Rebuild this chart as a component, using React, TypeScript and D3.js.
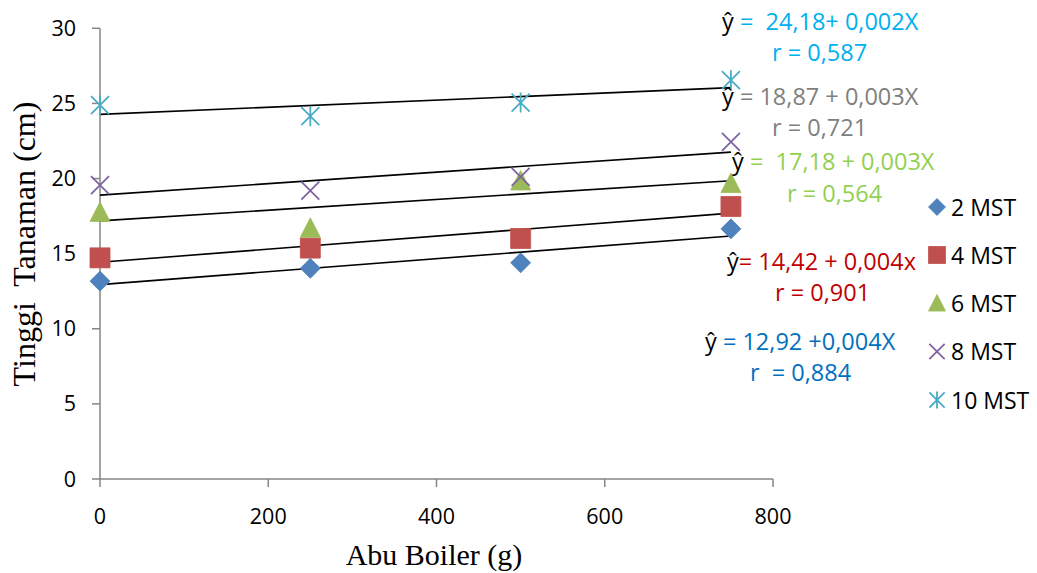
import React from "react";
import * as d3 from "d3";

const doses = [0, 250, 500, 750];
const seriesNames = ["2 MST", "4 MST", "6 MST", "8 MST", "10 MST"];
const mst2 = [13.17, 14.02, 14.39, 16.65];
const mst4 = [14.72, 15.37, 16.01, 18.14];
const mst6 = [17.78, 16.72, 19.87, 19.7];
const mst8 = [19.56, 19.2, 20.11, 22.44];
const mst10 = [24.88, 24.15, 25.06, 26.55];
const xTicks = [0, 200, 400, 600, 800];
const yTicks = [0, 5, 10, 15, 20, 25, 30];
const equations = [
  { eq: " =  24,18+ 0,002X", r: "r = 0,587", color: "#00B0F0" },
  { eq: " = 18,87 + 0,003X", r: "r = 0,721", color: "#7F7F7F" },
  { eq: " =  17,18 + 0,003X", r: "r = 0,564", color: "#92D050" },
  { eq: "= 14,42 + 0,004x", r: "r = 0,901", color: "#C00000" },
  { eq: " = 12,92 +0,004X", r: "r  = 0,884", color: "#0070C0" },
];

const colors = ["#4F81BD", "#C0504D", "#9BBB59", "#8064A2", "#4BACC6"];
const allSeries = [mst2, mst4, mst6, mst8, mst10];

function markerPath(kind: number, s: number): string {
  const h = s / 2;
  switch (kind) {
    case 0:
      return `M0,${-h}L${h},0L0,${h}L${-h},0Z`;
    case 1:
      return `M${-h},${-h}H${h}V${h}H${-h}Z`;
    case 2:
      return `M0,${-h}L${h},${h * 0.95}L${-h},${h * 0.95}Z`;
    case 3:
      return `M${-h * 0.9},${-h * 0.9}L${h * 0.9},${h * 0.9}M${h * 0.9},${-h * 0.9}L${-h * 0.9},${h * 0.9}`;
    default:
      return `M${-h * 0.9},${-h * 0.9}L${h * 0.9},${h * 0.9}M${h * 0.9},${-h * 0.9}L${-h * 0.9},${h * 0.9}M0,${-h}L0,${h}`;
  }
}

function Marker({ kind, color, x, y, size }: { kind: number; color: string; x: number; y: number; size: number }) {
  const filled = kind < 3;
  return (
    <path
      transform={`translate(${x},${y})`}
      d={markerPath(kind, size)}
      fill={filled ? color : "none"}
      stroke={color}
      strokeWidth={filled ? 0.8 : 1.8}
    />
  );
}

function regression(xs: number[], ys: number[]) {
  const mx = d3.mean(xs)!;
  const my = d3.mean(ys)!;
  let num = 0;
  let den = 0;
  xs.forEach((x, i) => {
    num += (x - mx) * (ys[i] - my);
    den += (x - mx) * (x - mx);
  });
  const b = num / den;
  return { a: my - b * mx, b };
}

export default function App() {
  const x = d3.scaleLinear().domain([0, 800]).range([100, 773]);
  const y = d3.scaleLinear().domain([0, 30]).range([479, 28.3]);
  const axisColor = "#868686";
  const sans = "'Open Sans', sans-serif";
  const serif = "'Liberation Serif', 'Times New Roman', serif";
  const lineGen = d3
    .line<number[]>()
    .x((d) => x(d[0]))
    .y((d) => y(d[1]));

  const eqY = [30, 105, 170, 270, 350];
  const eqX = [722, 722, 732, 727, 705];
  const rY = [61, 136, 202, 301, 381];
  const rX = [772, 772, 787, 775, 750];
  const legendY = [207, 255, 303, 351.5, 400];

  return (
    <svg width={1037} height={573} style={{ position: "absolute", left: 0, top: 0, background: "#fff" }}>
      <rect width={1037} height={573} fill="#fff" />
      {/* axes */}
      <line x1={x(0)} x2={x(0)} y1={y(0)} y2={y(30)} stroke={axisColor} strokeWidth={1.5} />
      {yTicks.map((t) => (
        <g key={"yt" + t}>
          <line x1={x(0) - 8} x2={x(0)} y1={y(t)} y2={y(t)} stroke={axisColor} strokeWidth={1.5} />
          <text x={76} y={y(t) + 7.5} textAnchor="end" fontFamily={sans} fontSize={21.5} fill="#000">
            {t}
          </text>
        </g>
      ))}
      <line x1={x(0)} x2={x(800)} y1={y(0)} y2={y(0)} stroke={axisColor} strokeWidth={1.5} />
      {xTicks.map((t) => (
        <g key={"xt" + t}>
          <line x1={x(t)} x2={x(t)} y1={y(0)} y2={y(0) + 8} stroke={axisColor} strokeWidth={1.5} />
          <text x={x(t)} y={524} textAnchor="middle" fontFamily={sans} fontSize={21.5} fill="#000">
            {t}
          </text>
        </g>
      ))}
      <text x={434} y={565} textAnchor="middle" fontFamily={serif} fontSize={30} fill="#000">
        Abu Boiler (g)
      </text>
      <text
        transform="translate(35,244) rotate(-90)"
        textAnchor="middle"
        fontFamily={serif}
        fontSize={32}
        fill="#000"
        xmlSpace="preserve"
        style={{ whiteSpace: "pre" }}
      >
        {"Tinggi  Tanaman (cm)"}
      </text>

      {/* trendlines */}
      {allSeries.map((s, i) => {
        const { a, b } = regression(doses, s);
        const pts = [
          [0, a],
          [750, a + b * 750],
        ];
        return <path key={"tl" + i} d={lineGen(pts) || ""} stroke="#000" strokeWidth={1.6} fill="none" />;
      })}

      {/* markers */}
      {allSeries.map((s, i) =>
        s.map((v, j) => (
          <Marker key={`m${i}-${j}`} kind={i} color={colors[i]} x={x(doses[j])} y={y(v)} size={20} />
        ))
      )}

      {/* equations */}
      {equations.map((e, i) => (
        <g key={"eq" + i} fontFamily={sans} fontSize={23.5}>
          <text x={eqX[i]} y={eqY[i]} xmlSpace="preserve" style={{ whiteSpace: "pre" }}>
            <tspan fill="#000">ŷ</tspan>
            <tspan fill={e.color}>{e.eq}</tspan>
          </text>
          <text x={rX[i]} y={rY[i]} fill={e.color} xmlSpace="preserve" style={{ whiteSpace: "pre" }}>
            {e.r}
          </text>
        </g>
      ))}

      {/* legend */}
      {seriesNames.map((n, i) => (
        <g key={"lg" + i}>
          <Marker kind={i} color={colors[i]} x={937} y={legendY[i]} size={17} />
          <text x={951} y={legendY[i] + 8.5} fontFamily={sans} fontSize={23} fill="#000">
            {n}
          </text>
        </g>
      ))}
    </svg>
  );
}
